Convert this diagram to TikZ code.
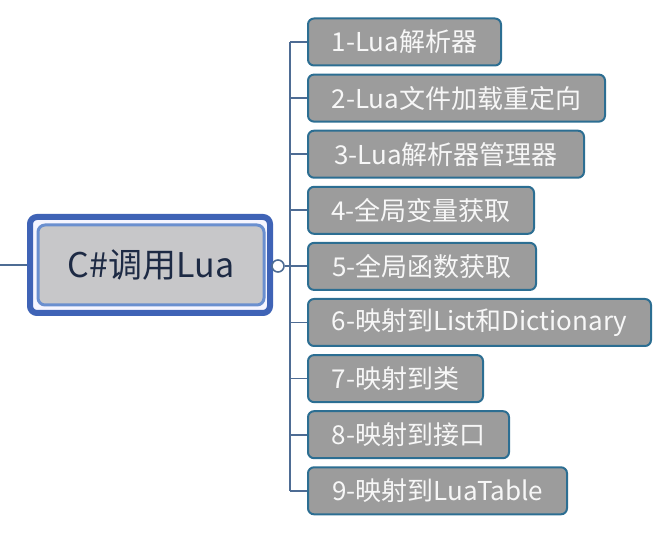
\documentclass[tikz,border=0pt]{standalone}
\usepackage{fontspec}
\setmainfont{Noto Sans CJK SC}
\definecolor{childfill}{HTML}{9C9C9C}
\definecolor{childborder}{HTML}{2C6E92}
\definecolor{linecol}{HTML}{4E6C94}
\definecolor{rootouter}{HTML}{3F63B6}
\definecolor{rootinner}{HTML}{6A8FCF}
\definecolor{rootfill}{HTML}{C7C7C9}
\definecolor{roottext}{HTML}{1D2A44}
\begin{document}
\begin{tikzpicture}[x=1pt,y=-1pt,
  child/.style={draw=childborder, line width=2pt, fill=childfill, rounded corners=6pt,
    minimum height=47pt, anchor=west, text=white!94!gray, font=\fontsize{26}{26}\selectfont, inner sep=0pt},
  conn/.style={draw=linecol, line width=1.8pt}]
\useasboundingbox (0,0) rectangle (667,534);
% root
\node[draw=rootouter, line width=6pt, rounded corners=7pt, minimum width=240pt, minimum height=96pt, fill=white!96!blue] (outer) at (150,265) {};
\node[draw=rootinner, line width=3pt, rounded corners=7pt, minimum width=226pt, minimum height=80pt, fill=rootfill,
  text=roottext, font=\fontsize{34}{34}\selectfont] (root) at (151,265) {C\#调用Lua};
\coordinate (lend) at (0,265);
\draw[conn] (lend) -- (outer.west);
\node[draw=linecol, line width=1.6pt, circle, minimum size=12pt, inner sep=0pt, fill=white] (knob) at (278,266) {};
% children
\foreach \i/\w/\t in {1/193/1-Lua解析器, 2/297/2-Lua文件加载重定向, 3/276/3-Lua解析器管理器,
  4/226/4-全局变量获取, 5/228/5-全局函数获取, 6/343/6-映射到List和Dictionary,
  7/175/7-映射到类, 8/201/8-映射到接口, 9/259/9-映射到LuaTable}{
  \node[child, minimum width=\w pt] (c\i) at (307,{42+56.1*(\i-1)}) {\t};
}
\coordinate (ttop) at (290,42);
\coordinate (tbot) at (290,491);
\draw[conn] (ttop) -- (tbot);
\draw[conn] (knob.east) -- (290,266);
\foreach \i in {1,...,9}{
  \draw[conn] (c\i.west) -- (c\i.west -| ttop);
}
\end{tikzpicture}
\end{document}
